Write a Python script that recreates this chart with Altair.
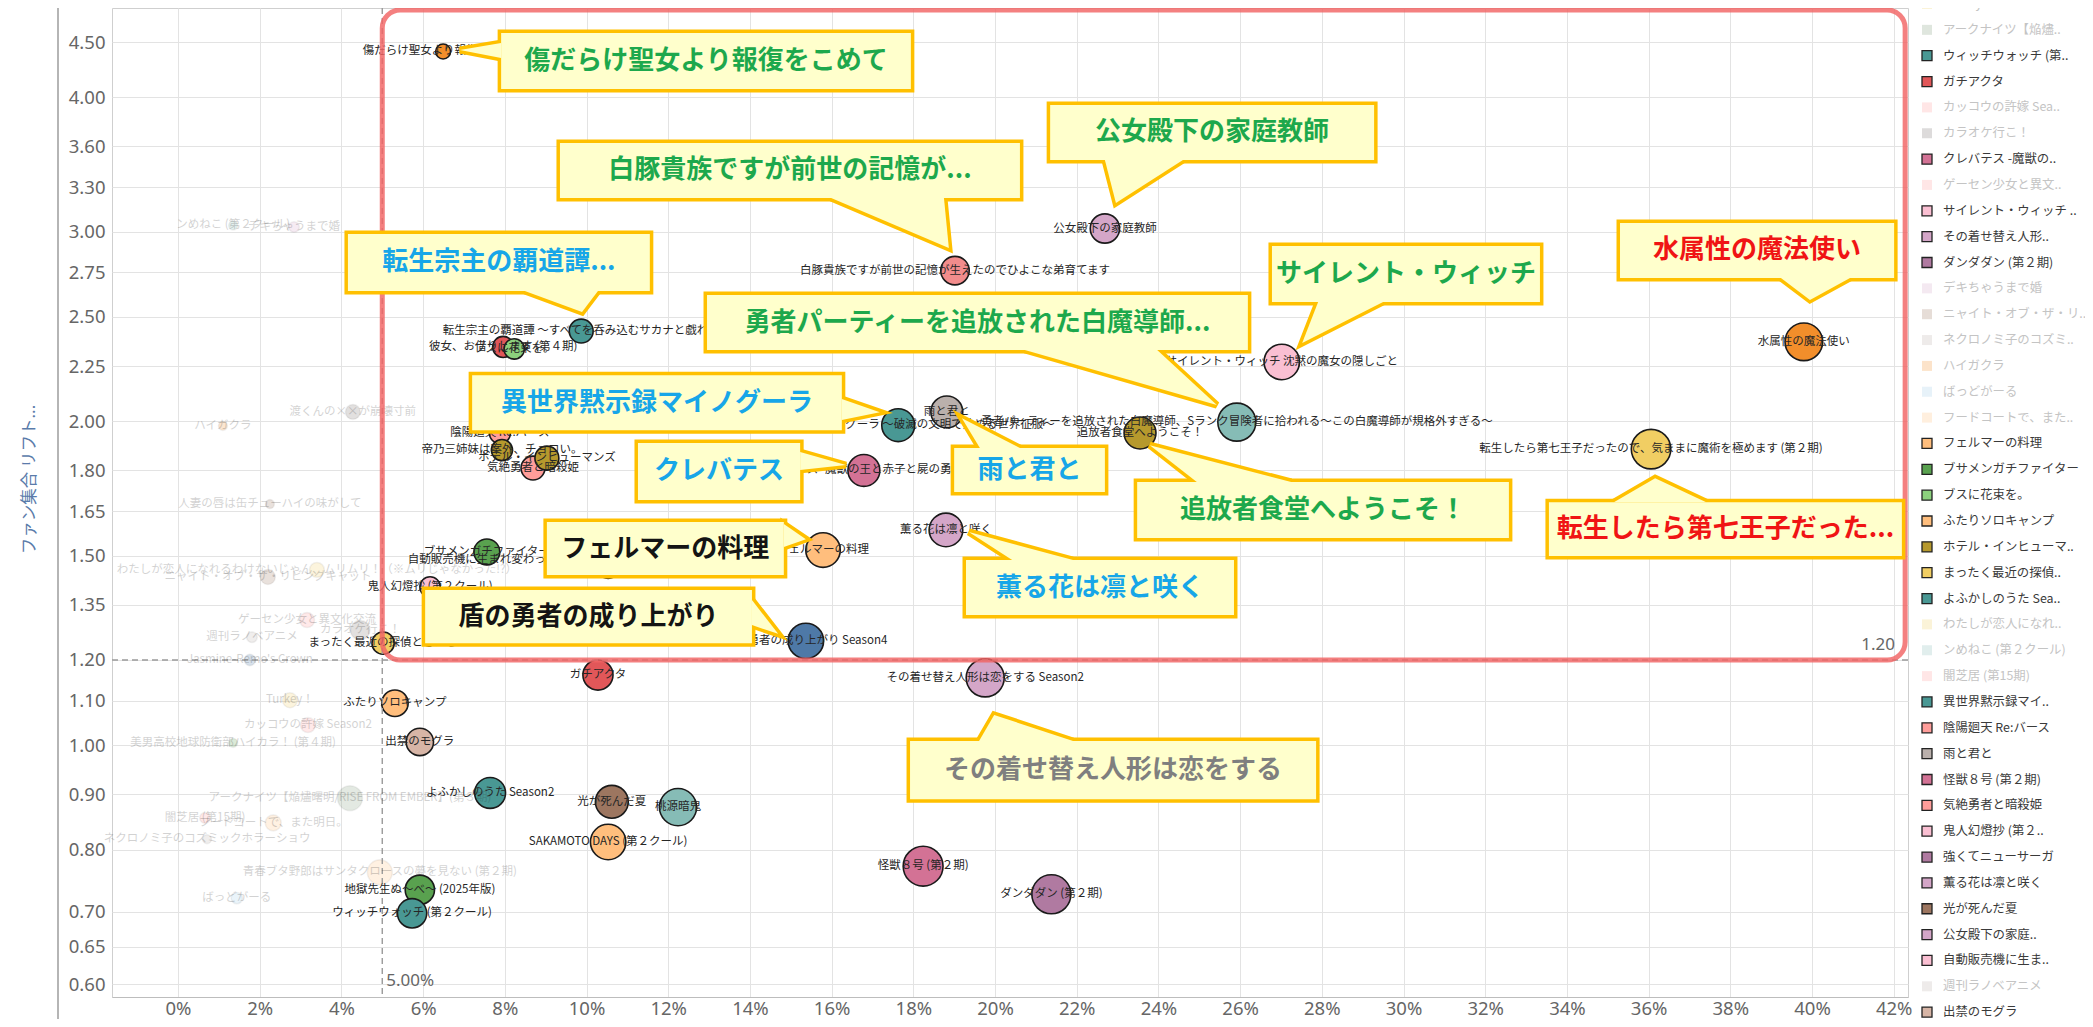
import altair as alt
import pandas as pd

# ------------------------------------------------------------------
# Bubbles: title, share of viewers (%),
# fan-set lift, bubble measure, highlighted (1) / faded (0)
# ------------------------------------------------------------------
names = [
    "ンめねこ (第２クール)", "デキちゃうまで婚", "渡くんの××が崩壊寸前", "ハイガクラ",
    "人妻の唇は缶チューハイの味がして",
    "わたしが恋人になれるわけないじゃん、ムリムリ！（※ムリじゃなかった!?）",
    "ニャイト・オブ・ザ・リビングキャット", "ゲーセン少女と異文化交流", "カラオケ行こ！",
    "週刊ラノベアニメ", "Jasmine-Remo's Crown", "Turkey！", "カッコウの許嫁 Season2",
    "美男高校地球防衛部ハイカラ！ (第４期)", "アークナイツ【焔燼曙明/RISE FROM EMBER】(第３期)",
    "闇芝居 (第15期)", "フードコートで、また明日。", "ネクロノミ子のコズミックホラーショウ",
    "青春ブタ野郎はサンタクロースの夢を見ない (第２期)", "ばっどがーる",
    "傷だらけ聖女より報復をこめて",
    "白豚貴族ですが前世の記憶が生えたのでひよこな弟育てます",
    "公女殿下の家庭教師", "サイレント・ウィッチ 沈黙の魔女の隠しごと", "水属性の魔法使い",
    "転生したら第七王子だったので、気ままに魔術を極めます (第２期)",
    "勇者パーティーを追放された白魔導師、Sランク冒険者に拾われる～この白魔導師が規格外すぎる～",
    "追放者食堂へようこそ！", "異世界黙示録マイノグーラ ～破滅の文明で始める世界征服～",
    "雨と君と", "クレバテス -魔獣の王と赤子と屍の勇者-", "薫る花は凛と咲く", "フェルマーの料理",
    "盾の勇者の成り上がり Season4", "その着せ替え人形は恋をする Season2", "怪獣８号 (第２期)",
    "ダンダダン (第２期)", "ガチアクタ", "ふたりソロキャンプ", "出禁のモグラ",
    "まったく最近の探偵ときたら", "よふかしのうた Season2", "光が死んだ夏", "桃源暗鬼",
    "SAKAMOTO DAYS (第２クール)", "地獄先生ぬ～べ～ (2025年版)", "ウィッチウォッチ (第２クール)",
    "ブサメンガチファイター", "強くてニューサーガ",
    "自動販売機に生まれ変わった俺は迷宮を彷徨う 2nd season", "鬼人幻燈抄 (第２クール)",
    "転生宗主の覇道譚 ～すべてを呑み込むサカナと戯れ～", "彼女、お借りします (第４期)",
    "ブスに花束を。", "陰陽廻天 Re:バース", "帝乃三姉妹は案外、チョロい。", "気絶勇者と暗殺姫",
    "ホテル・インヒューマンズ",
]
share_pct = [1.35, 2.84, 4.28, 1.10, 2.25, 3.40, 2.20, 3.16, 4.46, 1.81, 1.76, 2.74, 3.18, 1.35,
             4.21, 0.66, 2.33, 0.71, 4.94, 1.44,
             6.49, 19.02, 22.69, 27.02, 39.80, 36.06, 25.92, 23.55, 17.63, 18.82, 16.79, 18.80,
             15.79, 15.37, 19.76, 18.24, 21.38, 10.28, 5.31, 5.92, 5.02, 7.64, 10.62, 12.24,
             10.53, 5.92, 5.73, 7.56, 10.53, 9.35, 6.17, 9.87, 7.96, 8.23, 7.88, 7.93, 8.69, 9.03]
lift = [3.04, 3.03, 2.04, 1.98, 1.675, 1.455, 1.433, 1.307, 1.279, 1.26, 1.20, 1.101, 1.044, 1.005,
        0.893, 0.856, 0.847, 0.818, 0.762, 0.721,
        4.41, 2.76, 3.02, 2.27, 2.37, 1.884, 1.996, 1.95, 1.983, 2.04, 1.80, 1.585, 1.518, 1.25,
        1.155, 0.772, 0.727, 1.162, 1.094, 1.007, 1.244, 0.903, 0.886, 0.876, 0.813, 0.734, 0.698,
        1.512, 1.47, 1.486, 1.403, 2.425, 2.344, 2.334, 1.95, 1.88, 1.809, 1.848]
buzz = [5, 7, 14, 5, 5, 14, 14, 14, 24, 7, 8, 14, 14, 5, 39, 7, 16, 5, 39, 8,
        14, 51, 54, 79, 89, 98, 91, 64, 68, 64, 64, 71, 75, 79, 91, 100, 96, 57, 44, 47, 31, 60,
        68, 87, 79, 54, 54, 42, 44, 44, 26, 36, 28, 26, 28, 28, 36, 36]
highlight = [0, 0, 0, 0, 0, 0, 0, 0, 0, 0, 0, 0, 0, 0, 0, 0, 0, 0, 0, 0,
             1, 1, 1, 1, 1, 1, 1, 1, 1, 1, 1, 1, 1, 1, 1, 1, 1, 1, 1, 1, 1, 1, 1, 1, 1, 1, 1, 1,
             1, 1, 1, 1, 1, 1, 1, 1, 1, 1]

# palette (one colour per title)
colors = ["#86BCB6", "#D4A6C8", "#79706E", "#F28E2B", "#9D7660", "#F1CE63", "#9D7660", "#FF9D9A",
          "#79706E", "#BAB0AC", "#4E79A7", "#F1CE63", "#FF9D9A", "#59A14F", "#7F9C7A", "#FF9D9A",
          "#FFBE7D", "#BAB0AC", "#FFBE7D", "#A0CBE8",
          "#F28E2B", "#F28C8C", "#D4A6C8", "#FABFD2", "#F28E2B", "#F1CE63", "#86BCB6", "#B6992D",
          "#499894", "#BAB0AC", "#D37295", "#D4A6C8", "#FFBE7D", "#4E79A7", "#D4A6C8", "#D37295",
          "#B07AA1", "#E15759", "#FFBE7D", "#D7B5A6", "#F1CE63", "#499894", "#9D7660", "#86BCB6",
          "#FFBE7D", "#59A14F", "#499894", "#59A14F", "#B07AA1", "#FABFD2", "#FABFD2", "#499894",
          "#E15759", "#8CD17D", "#FF9D9A", "#B6992D", "#FF9D9A", "#B6992D"]

# ------------------------------------------------------------------
# Axis ticks
# ------------------------------------------------------------------
x_ticks = [0.00, 0.02, 0.04, 0.06, 0.08, 0.10, 0.12, 0.14, 0.16, 0.18, 0.20, 0.22, 0.24, 0.26,
           0.28, 0.30, 0.32, 0.34, 0.36, 0.38, 0.40, 0.42]
y_ticks = [0.60, 0.65, 0.70, 0.80, 0.90, 1.00, 1.10, 1.20, 1.35, 1.50, 1.65, 1.80, 2.00, 2.25,
           2.50, 2.75, 3.00, 3.30, 3.60, 4.00, 4.50]
x_domain = [-0.01616, 0.4235]
y_domain = [0.5836, 4.84]

# thresholds and the highlighted region
thr_share = [0.05]
thr_lift = [1.2]
region_share = [0.05, 0.4228]
region_lift = [1.2, 4.82]

# ------------------------------------------------------------------
# Call-outs (data-space boxes, text, tier) and their pointers
# ------------------------------------------------------------------
call_text = ["傷だらけ聖女より報復をこめて", "白豚貴族ですが前世の記憶が...", "公女殿下の家庭教師",
             "サイレント・ウィッチ", "水属性の魔法使い", "転生したら第七王子だった...",
             "勇者パーティーを追放された白魔導師...", "転生宗主の覇道譚...", "異世界黙示録マイノグーラ",
             "クレバテス", "雨と君と", "追放者食堂へようこそ！", "フェルマーの料理", "盾の勇者の成り上がり",
             "薫る花は凛と咲く", "その着せ替え人形は恋をする"]
call_tier = ["A", "A", "A", "A", "S", "S", "A", "B", "B", "B", "B", "A", "C", "C", "B", "D"]
box_x1 = [7.91, 9.35, 21.35, 26.78, 35.30, 33.56, 12.95, 4.16, 7.20, 11.26, 19.00, 23.48, 9.03,
          6.05, 19.29, 17.92]
box_x2 = [17.94, 20.61, 29.28, 33.34, 42.01, 42.20, 26.19, 11.55, 16.25, 15.23, 22.69, 32.58,
          14.83, 14.05, 25.85, 27.86]
box_top = [4.588, 3.626, 3.933, 2.909, 3.056, 1.682, 2.619, 2.985, 2.207, 1.909, 1.888, 1.756,
           1.612, 1.394, 1.486, 1.009]
box_bottom = [4.070, 3.224, 3.497, 2.581, 2.717, 1.499, 2.329, 2.642, 1.962, 1.690, 1.719, 1.558,
              1.439, 1.244, 1.321, 0.891]

# pointers whose base lies on the top/bottom edge of the box
ph_id = [1, 2, 3, 4, 5, 6, 7, 10, 11, 14, 15]
ph_base_y = [3.224, 3.497, 2.581, 2.717, 1.682, 2.329, 2.642, 1.888, 1.756, 1.486, 1.009]
ph_base_x1 = [15.99, 22.69, 27.91, 39.24, 35.15, 20.73, 8.49, 19.63, 24.94, 20.42, 19.61]
ph_base_x2 = [18.75, 24.60, 29.50, 40.93, 37.41, 23.97, 10.28, 20.61, 27.25, 21.91, 21.91]
ph_tip_x = [18.87, 22.96, 27.52, 39.95, 36.16, 25.43, 9.89, 19.19, 23.79, 19.36, 19.98]
ph_tip_y = [2.897, 3.189, 2.364, 2.592, 1.77, 2.07, 2.526, 2.013, 1.90, 1.578, 1.067]

# pointers whose base lies on the left/right edge of the box
pv_id = [0, 8, 9, 12, 13]
pv_base_x = [7.91, 16.25, 15.23, 14.83, 14.05]
pv_base_y1 = [4.49, 2.097, 1.872, 1.605, 1.364]
pv_base_y2 = [4.35, 2.005, 1.802, 1.528, 1.293]
pv_tip_x = [6.90, 17.18, 16.35, 15.37, 14.69]
pv_tip_y = [4.424, 2.039, 1.821, 1.554, 1.269]

tiers = ["S", "A", "B", "C", "D"]
tier_colors = ["#F01414", "#1DA84C", "#17A6E8", "#141414", "#7F7F7F"]

# ------------------------------------------------------------------
# Legend (visible, scrolled part)
# ------------------------------------------------------------------
legend_labels = ["Turkey！", "アークナイツ【焔燼..", "ウィッチウォッチ (第..", "ガチアクタ",
                 "カッコウの許嫁 Sea..", "カラオケ行こ！", "クレバテス -魔獣の..", "ゲーセン少女と異文..",
                 "サイレント・ウィッチ ..", "その着せ替え人形..", "ダンダダン (第２期)", "デキちゃうまで婚",
                 "ニャイト・オブ・ザ・リ..", "ネクロノミ子のコズミ..", "ハイガクラ", "ばっどがーる",
                 "フードコートで、また..", "フェルマーの料理", "ブサメンガチファイター", "ブスに花束を。",
                 "ふたりソロキャンプ", "ホテル・インヒューマ..", "まったく最近の探偵..", "よふかしのうた Sea..",
                 "わたしが恋人になれ..", "ンめねこ (第２クール)", "闇芝居 (第15期)", "異世界黙示録マイ..",
                 "陰陽廻天 Re:バース", "雨と君と", "怪獣８号 (第２期)", "気絶勇者と暗殺姫",
                 "鬼人幻燈抄 (第２..", "強くてニューサーガ", "薫る花は凛と咲く", "光が死んだ夏",
                 "公女殿下の家庭..", "自動販売機に生ま..", "週刊ラノベアニメ", "出禁のモグラ"]
legend_keys = ["Turkey！", "アークナイツ【焔燼曙明/RISE FROM EMBER】(第３期)", "ウィッチウォッチ (第２クール)",
               "ガチアクタ", "カッコウの許嫁 Season2", "カラオケ行こ！", "クレバテス -魔獣の王と赤子と屍の勇者-",
               "ゲーセン少女と異文化交流", "サイレント・ウィッチ 沈黙の魔女の隠しごと",
               "その着せ替え人形は恋をする Season2", "ダンダダン (第２期)", "デキちゃうまで婚",
               "ニャイト・オブ・ザ・リビングキャット", "ネクロノミ子のコズミックホラーショウ", "ハイガクラ",
               "ばっどがーる", "フードコートで、また明日。", "フェルマーの料理", "ブサメンガチファイター",
               "ブスに花束を。", "ふたりソロキャンプ", "ホテル・インヒューマンズ", "まったく最近の探偵ときたら",
               "よふかしのうた Season2",
               "わたしが恋人になれるわけないじゃん、ムリムリ！（※ムリじゃなかった!?）",
               "ンめねこ (第２クール)", "闇芝居 (第15期)", "異世界黙示録マイノグーラ ～破滅の文明で始める世界征服～",
               "陰陽廻天 Re:バース", "雨と君と", "怪獣８号 (第２期)", "気絶勇者と暗殺姫", "鬼人幻燈抄 (第２クール)",
               "強くてニューサーガ", "薫る花は凛と咲く", "光が死んだ夏", "公女殿下の家庭教師",
               "自動販売機に生まれ変わった俺は迷宮を彷徨う 2nd season", "週刊ラノベアニメ", "出禁のモグラ"]

# ------------------------------------------------------------------
# Layout constants (pixels)
# ------------------------------------------------------------------
W, H = 1796, 989
LEG_TOP, LEG_STEP = -4, 25.85       # legend row centre / spacing
LEG_SQ_X, LEG_TX_X = 1815, 1831    # legend square centre / label start

# ------------------------------------------------------------------
# Tables
# ------------------------------------------------------------------
bub = pd.DataFrame({
    "name": names,
    "share": [v / 100 for v in share_pct],
    "lift": lift,
    "buzz": buzz,
    "hl": [bool(h) for h in highlight],
    "order": list(range(len(names))),
})
hl_of = dict(zip(names, [bool(h) for h in highlight]))

cdf = pd.DataFrame({
    "text": call_text, "tier": call_tier,
    "x1": [v / 100 for v in box_x1], "x2": [v / 100 for v in box_x2],
    "ytop": box_top, "ybot": box_bottom,
})

ph_rows = []
for i, by, bx1, bx2, tx, ty in zip(ph_id, ph_base_y, ph_base_x1, ph_base_x2, ph_tip_x, ph_tip_y):
    ph_rows.append({"id": i, "y": by, "xa": bx1 / 100, "xb": bx2 / 100})
    ph_rows.append({"id": i, "y": ty, "xa": tx / 100, "xb": tx / 100})
ph_df = pd.DataFrame(ph_rows)

pv_rows = []
for i, bx, by1, by2, tx, ty in zip(pv_id, pv_base_x, pv_base_y1, pv_base_y2, pv_tip_x, pv_tip_y):
    pv_rows.append({"id": i, "x": bx / 100, "ya": by1, "yb": by2})
    pv_rows.append({"id": i, "x": tx / 100, "ya": ty, "yb": ty})
pv_df = pd.DataFrame(pv_rows)

leg_df = pd.DataFrame({
    "idx": list(range(len(legend_labels))),
    "label": legend_labels,
    "key": legend_keys,
    "hl": [hl_of[k] for k in legend_keys],
})

region_df = pd.DataFrame({"x1": [region_share[0]], "x2": [region_share[1]],
                          "y1": [region_lift[0]], "y2": [region_lift[1]]})
vline_df = pd.DataFrame({"x": thr_share})
hline_df = pd.DataFrame({"y": thr_lift})
lab5_df = pd.DataFrame({"x": thr_share, "y": [y_ticks[0]], "t": [f"{thr_share[0]:.2%}"]})
lab12_df = pd.DataFrame({"x": [x_domain[1]], "y": thr_lift, "t": [f"{thr_lift[0]:.2f}"]})
frame_df = pd.DataFrame({"k": [0]})

# ------------------------------------------------------------------
# Scales / axes (every layer carries the same axis spec so they merge)
# ------------------------------------------------------------------
JP = "Noto Sans CJK JP"
xs = alt.Scale(domain=x_domain, nice=False, zero=False)
ys = alt.Scale(type="log", domain=y_domain, nice=False)
cs = alt.Scale(domain=names, range=colors)

x_axis = alt.Axis(values=x_ticks, format=".0%", title="", labelFontSize=18.5, labelColor="#666666",
                  labelFont="Noto Sans", grid=True, gridColor="#E3E3E3", ticks=False, domain=True,
                  domainColor="#BDBDBD", labelPadding=2)
y_axis = alt.Axis(values=y_ticks, format=".2f", title="ファン集合 リフト...", labelFontSize=18.5,
                  labelColor="#666666", labelFont="Noto Sans", grid=True, gridColor="#E3E3E3",
                  ticks=False, domain=False, labelPadding=7, titleFont=JP, titleFontSize=16.5,
                  titleFontWeight="normal", titleColor="#5A7BAA", titleX=-83, titleY=471,
                  titleAngle=270, titleAlign="center", titleBaseline="middle")


def X(f, **kw):
    return alt.X(f, scale=xs, axis=x_axis, **kw)


def Y(f, **kw):
    return alt.Y(f, scale=ys, axis=y_axis, **kw)


hl_test = "datum.hl"

# ------------------------------------------------------------------
# Layers
# ------------------------------------------------------------------
bubbles = alt.Chart(bub).mark_circle(stroke="#1A1A1A", strokeWidth=1.6, opacity=1).encode(
    x=X("share:Q"),
    y=Y("lift:Q"),
    size=alt.Size("buzz:Q", scale=alt.Scale(domain=[0, 100], range=[0, 1590]), legend=None),
    color=alt.Color("name:N", scale=cs, legend=None),
    fillOpacity=alt.condition(hl_test, alt.value(1), alt.value(0.22)),
    strokeOpacity=alt.condition(hl_test, alt.value(1), alt.value(0.06)),
    order=alt.Order("order:Q"),
)

vline = alt.Chart(vline_df).mark_rule(color="#9A9A9A", strokeDash=[6, 4], strokeWidth=1.4).encode(
    x=X("x:Q"))
hline = alt.Chart(hline_df).mark_rule(color="#9A9A9A", strokeDash=[6, 4], strokeWidth=1.4).encode(
    y=Y("y:Q"))

labels = alt.Chart(bub).mark_text(fontSize=11.5, font=JP, color="#262626", baseline="middle").encode(
    x=X("share:Q"), y=Y("lift:Q"), text="name:N",
    opacity=alt.condition(hl_test, alt.value(1), alt.value(0.2)),
    order=alt.Order("order:Q"),
)

region = alt.Chart(region_df).mark_rect(fillOpacity=0, stroke="#F26464", strokeOpacity=0.82,
                                         strokeWidth=5, cornerRadius=18).encode(
    x=X("x1:Q"), x2="x2:Q", y=Y("y1:Q"), y2="y2:Q")

BOX_FILL = "#FFFFCC"
BOX_LINE = "#FFC000"

ptr_h_line = alt.Chart(ph_df).mark_area(orient="horizontal", fill=BOX_FILL, stroke=BOX_LINE,
                                        strokeWidth=7, strokeJoin="miter", strokeMiterLimit=4).encode(
    y=Y("y:Q"), x=X("xa:Q", stack=None), x2="xb:Q", detail="id:N")
ptr_v_line = alt.Chart(pv_df).mark_area(orient="vertical", fill=BOX_FILL, stroke=BOX_LINE,
                                        strokeWidth=7, strokeJoin="miter", strokeMiterLimit=4).encode(
    x=X("x:Q"), y=Y("ya:Q", stack=None), y2="yb:Q", detail="id:N")
box_line = alt.Chart(cdf).mark_rect(fill=BOX_FILL, stroke=BOX_LINE, strokeWidth=7).encode(
    x=X("x1:Q"), x2="x2:Q", y=Y("ytop:Q"), y2="ybot:Q")
box_fill = alt.Chart(cdf).mark_rect(fill=BOX_FILL).encode(
    x=X("x1:Q"), x2="x2:Q", y=Y("ytop:Q"), y2="ybot:Q")
ptr_h_fill = alt.Chart(ph_df).mark_area(orient="horizontal", fill=BOX_FILL).encode(
    y=Y("y:Q"), x=X("xa:Q", stack=None), x2="xb:Q", detail="id:N")
ptr_v_fill = alt.Chart(pv_df).mark_area(orient="vertical", fill=BOX_FILL).encode(
    x=X("x:Q"), y=Y("ya:Q", stack=None), y2="yb:Q", detail="id:N")

call_txt = alt.Chart(cdf).transform_calculate(
    cx="(datum.x1 + datum.x2) / 2", cy="sqrt(datum.ytop * datum.ybot)"
).mark_text(font=JP, fontSize=26, fontWeight="bold", align="center", baseline="middle").encode(
    x=X("cx:Q"), y=Y("cy:Q"), text="text:N",
    fill=alt.Fill("tier:N", scale=alt.Scale(domain=tiers, range=tier_colors), legend=None),
)

lab5 = alt.Chart(lab5_df).mark_text(font="Noto Sans", fontSize=17, color="#666666", align="left",
                                    baseline="middle", dx=4, dy=-3).encode(
    x=X("x:Q"), y=Y("y:Q"), text="t:N")
lab12 = alt.Chart(lab12_df).mark_text(font="Noto Sans", fontSize=17, color="#666666", align="right",
                                      baseline="middle", dx=-13, dy=-15).encode(
    x=X("x:Q"), y=Y("y:Q"), text="t:N")

# header border left of the tick labels
frame = alt.Chart(frame_df).mark_rule(color="#9C9C9C", strokeWidth=1.5).encode(
    x=alt.value(-54), y=alt.value(-8), y2=alt.value(H + 22))

# legend: rows laid out at a fixed pixel pitch, expressed on the shared lift scale
ymin, ymax = y_domain
leg_expr = (f"{ymax} * exp(-({LEG_TOP} + {LEG_STEP} * datum.idx) / {H} * log({ymax} / {ymin}))")
leg_base = alt.Chart(leg_df).transform_calculate(ly=leg_expr)
leg_sq = leg_base.mark_square(size=100, stroke="#222222", strokeWidth=1.3, opacity=1).encode(
    x=alt.value(LEG_SQ_X),
    y=Y("ly:Q"),
    color=alt.Color("key:N", scale=cs, legend=None),
    fillOpacity=alt.condition(hl_test, alt.value(1), alt.value(0.25)),
    strokeOpacity=alt.condition(hl_test, alt.value(1), alt.value(0)),
)
leg_tx = leg_base.mark_text(font=JP, fontSize=12.4, align="left", baseline="middle").encode(
    x=alt.value(LEG_TX_X),
    y=Y("ly:Q"),
    text="label:N",
    color=alt.condition(hl_test, alt.value("#3A3A3A"), alt.value("#C4C4C4")),
)

chart = alt.layer(
    bubbles, vline, hline, labels, region,
    ptr_h_line, ptr_v_line, box_line, box_fill, ptr_h_fill, ptr_v_fill,
    call_txt, lab5, lab12, frame, leg_sq, leg_tx,
).properties(
    width=W, height=H,
    autosize=alt.AutoSizeParams(type="none"),
    padding={"left": 104, "top": 0, "right": 177, "bottom": 22},
).configure(font=JP, background="white").configure_view(stroke="#CFCFCF")

chart.save("out.html", embed_options={"renderer": "svg", "actions": False})
